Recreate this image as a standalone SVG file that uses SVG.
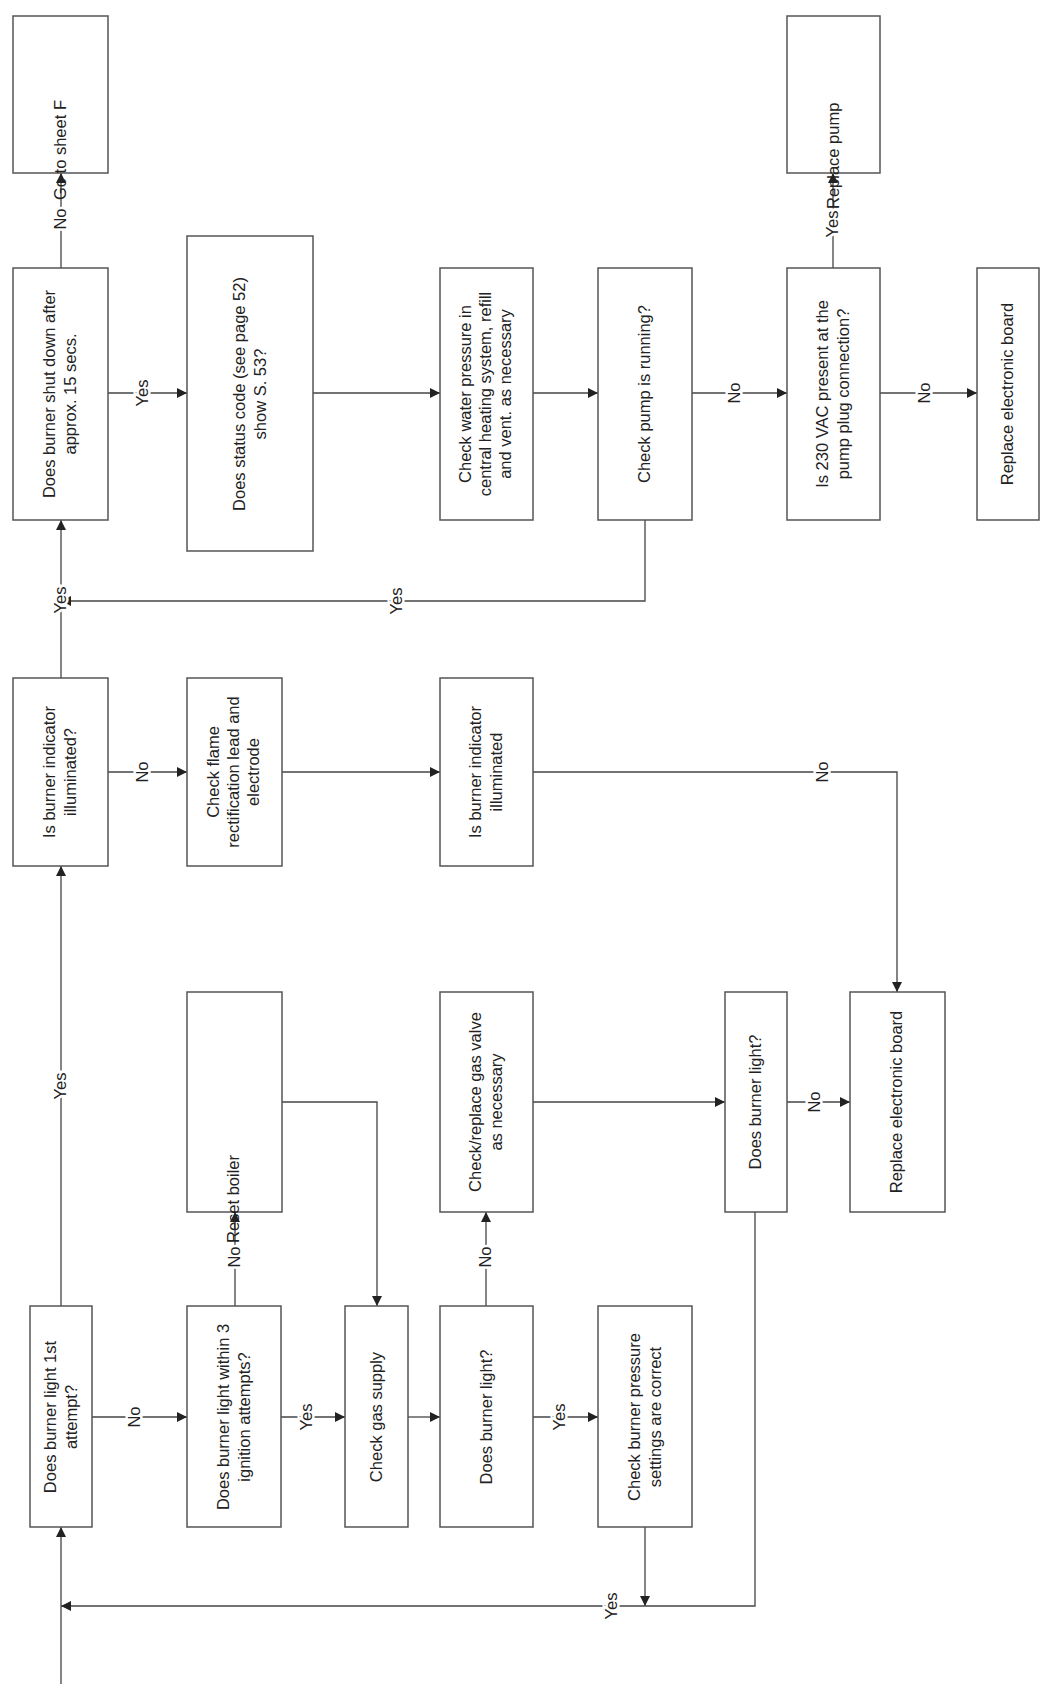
<svg xmlns="http://www.w3.org/2000/svg" width="1042" height="1692" viewBox="0 0 1042 1692">
<defs>
<marker id="ah" markerWidth="10" markerHeight="10" refX="10" refY="5" orient="auto" markerUnits="userSpaceOnUse"><path d="M0,0 L10,5 L0,10 Z" fill="#222"/></marker>
<style>
rect{fill:#fff;stroke:#555;stroke-width:1.5}
text{font-family:"Liberation Sans",Arial,sans-serif;font-size:16.5px;fill:#222;text-anchor:middle}
.c path{fill:none;stroke:#444;stroke-width:1.3}
.a{marker-end:url(#ah)}
.l{stroke:#fff;stroke-width:5;paint-order:stroke}
</style>
</defs>
<rect width="1042" height="1692" style="fill:#fff;stroke:none"/>
<g class="c">
<path class="a" d="M61,268 V173"/>
<path class="a" d="M108,393 H187"/>
<path class="a" d="M313,393 H440"/>
<path class="a" d="M533,393 H598"/>
<path class="a" d="M692,393 H787"/>
<path class="a" d="M880,393 H977"/>
<path class="a" d="M833,268 V173"/>
<path class="a" d="M61,678 V520"/>
<path class="a" d="M645,520 V601 H61"/>
<path class="a" d="M108,772 H187"/>
<path class="a" d="M282,772 H440"/>
<path class="a" d="M533,772 H897 V992"/>
<path class="a" d="M61,1306 V866"/>
<path class="a" d="M282,1102 H377 V1306"/>
<path class="a" d="M533,1102 H725"/>
<path class="a" d="M787,1102 H850"/>
<path class="a" d="M235,1306 V1212"/>
<path class="a" d="M486,1306 V1212"/>
<path class="a" d="M92,1417 H187"/>
<path class="a" d="M281,1417 H345"/>
<path class="a" d="M408,1417 H440"/>
<path class="a" d="M533,1417 H598"/>
<path class="a" d="M645,1527 V1606"/>
<path class="a" d="M755,1212 V1606 H61"/>
<path class="a" d="M61,1684 V1527"/>
</g>
<g id="labels">
<text class="l" transform="translate(66,219) rotate(-90)">No</text>
<text class="l" transform="translate(148,393) rotate(-90)">Yes</text>
<text class="l" transform="translate(740,393) rotate(-90)">No</text>
<text class="l" transform="translate(930,393) rotate(-90)">No</text>
<text class="l" transform="translate(838,224) rotate(-90)">Yes</text>
<text class="l" transform="translate(66,600) rotate(-90)">Yes</text>
<text class="l" transform="translate(402,601) rotate(-90)">Yes</text>
<text class="l" transform="translate(148,772) rotate(-90)">No</text>
<text class="l" transform="translate(828,772) rotate(-90)">No</text>
<text class="l" transform="translate(66,1086) rotate(-90)">Yes</text>
<text class="l" transform="translate(820,1102) rotate(-90)">No</text>
<text class="l" transform="translate(240,1257) rotate(-90)">No</text>
<text class="l" transform="translate(491,1257) rotate(-90)">No</text>
<text class="l" transform="translate(140,1417) rotate(-90)">No</text>
<text class="l" transform="translate(312,1417) rotate(-90)">Yes</text>
<text class="l" transform="translate(565,1417) rotate(-90)">Yes</text>
<text class="l" transform="translate(617,1606) rotate(-90)">Yes</text>
</g>
<g id="n1"><rect x="13" y="16" width="95" height="157"/><text transform="translate(66,200) rotate(-90)" style="text-anchor:start">Go to sheet F</text></g>
<g id="n2"><rect x="13" y="268" width="95" height="252"/><text transform="translate(60,394) rotate(-90)"><tspan x="0" y="-5">Does burner shut down after</tspan><tspan x="0" y="16">approx. 15 secs.</tspan></text></g>
<g id="n3"><rect x="187" y="236" width="126" height="315"/><text transform="translate(250,394) rotate(-90)"><tspan x="0" y="-5">Does status code (see page 52)</tspan><tspan x="0" y="16">show S. 53?</tspan></text></g>
<g id="n4"><rect x="440" y="268" width="93" height="252"/><text transform="translate(486,394) rotate(-90)"><tspan x="0" y="-15">Check water pressure in</tspan><tspan x="0" y="5">central heating system, refill</tspan><tspan x="0" y="25">and vent. as necessary</tspan></text></g>
<g id="n5"><rect x="598" y="268" width="94" height="252"/><text transform="translate(650,394) rotate(-90)">Check pump is running?</text></g>
<g id="n6"><rect x="787" y="268" width="93" height="252"/><text transform="translate(833,394) rotate(-90)"><tspan x="0" y="-5">Is 230 VAC present at the</tspan><tspan x="0" y="16">pump plug connection?</tspan></text></g>
<g id="n7"><rect x="977" y="268" width="62" height="252"/><text transform="translate(1013,394) rotate(-90)">Replace electronic board</text></g>
<g id="n8"><rect x="787" y="16" width="93" height="157"/><text transform="translate(839,209) rotate(-90)" style="text-anchor:start">Replace pump</text></g>
<g id="n9"><rect x="13" y="678" width="95" height="188"/><text transform="translate(60,772) rotate(-90)"><tspan x="0" y="-5">Is burner indicator</tspan><tspan x="0" y="16">illuminated?</tspan></text></g>
<g id="n10"><rect x="187" y="678" width="95" height="188"/><text transform="translate(234,772) rotate(-90)"><tspan x="0" y="-15">Check flame</tspan><tspan x="0" y="5">rectification lead and</tspan><tspan x="0" y="25">electrode</tspan></text></g>
<g id="n11"><rect x="440" y="678" width="93" height="188"/><text transform="translate(486,772) rotate(-90)"><tspan x="0" y="-5">Is burner indicator</tspan><tspan x="0" y="16">illuminated</tspan></text></g>
<g id="n12"><rect x="187" y="992" width="95" height="220"/><text transform="translate(239,1243) rotate(-90)" style="text-anchor:start">Reset boiler</text></g>
<g id="n13"><rect x="440" y="992" width="93" height="220"/><text transform="translate(486,1102) rotate(-90)"><tspan x="0" y="-5">Check/replace gas valve</tspan><tspan x="0" y="16">as necessary</tspan></text></g>
<g id="n14"><rect x="725" y="992" width="62" height="220"/><text transform="translate(761,1102) rotate(-90)">Does burner light?</text></g>
<g id="n15"><rect x="850" y="992" width="95" height="220"/><text transform="translate(902,1102) rotate(-90)">Replace electronic board</text></g>
<g id="n16"><rect x="30" y="1306" width="62" height="221"/><text transform="translate(61,1417) rotate(-90)"><tspan x="0" y="-5">Does burner light 1st</tspan><tspan x="0" y="16">attempt?</tspan></text></g>
<g id="n17"><rect x="187" y="1306" width="94" height="221"/><text transform="translate(234,1417) rotate(-90)"><tspan x="0" y="-5">Does burner light within 3</tspan><tspan x="0" y="16">ignition attempts?</tspan></text></g>
<g id="n18"><rect x="345" y="1306" width="63" height="221"/><text transform="translate(382,1417) rotate(-90)">Check gas supply</text></g>
<g id="n19"><rect x="440" y="1306" width="93" height="221"/><text transform="translate(492,1417) rotate(-90)">Does burner light?</text></g>
<g id="n20"><rect x="598" y="1306" width="94" height="221"/><text transform="translate(645,1417) rotate(-90)"><tspan x="0" y="-5">Check burner pressure</tspan><tspan x="0" y="16">settings are correct</tspan></text></g>
</svg>
